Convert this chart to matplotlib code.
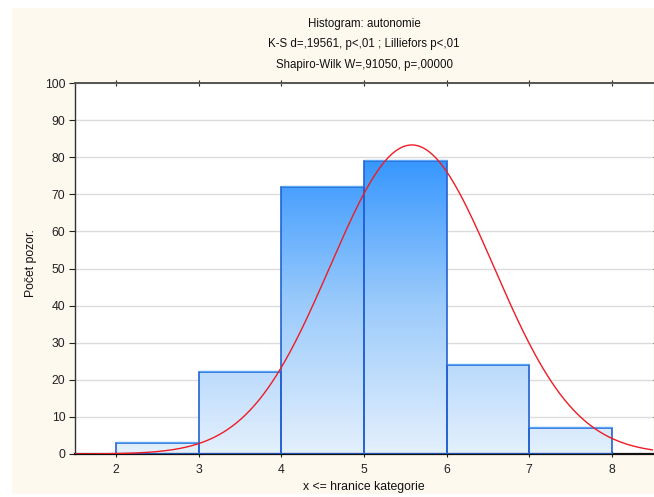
import numpy as np
import matplotlib.pyplot as plt
from matplotlib.colors import LinearSegmentedColormap
from matplotlib.patches import Rectangle

plt.rcParams['font.family'] = ['Liberation Sans', 'DejaVu Sans']

# histogram of "autonomie": categories x <= upper edge
bin_edges = [2, 3, 4, 5, 6, 7, 8]
counts = [3, 22, 72, 79, 24, 7]
x_ticks = [2, 3, 4, 5, 6, 7, 8]
y_ticks = [0, 10, 20, 30, 40, 50, 60, 70, 80, 90, 100]
title_lines = ['Histogram: autonomie',
               'K-S d=,19561, p<,01 ; Lilliefors p<,01',
               'Shapiro-Wilk W=,91050, p=,00000']

W, H = 654, 497
fig = plt.figure(figsize=(W / 100, H / 100), dpi=100)
fig.patch.set_facecolor('white')
# cream panel behind the chart
fig.patches.append(Rectangle((12 / W, 1 - 494 / H), 1, 486 / H,
                             transform=fig.transFigure, facecolor='#fdf9ef',
                             edgecolor='none', zorder=-10))

ax = fig.add_axes([75 / W, 1 - 454 / H, (653 - 75) / W, (454 - 83) / H])
ax.set_facecolor('white')

grad = LinearSegmentedColormap.from_list('bars', ['#e4f0fd', '#9ccbfb', '#3596ff'])

for lo, hi, c in zip(bin_edges[:-1], bin_edges[1:], counts):
    ys = np.linspace(0, c, 200).reshape(-1, 1)
    ax.imshow(ys, extent=[lo, hi, 0, c], origin='lower', aspect='auto',
              cmap=grad, vmin=0, vmax=80, zorder=2, interpolation='bilinear')
    ax.add_patch(Rectangle((lo, 0), hi - lo, c, facecolor='none',
                           edgecolor='#2462d2', linewidth=1.2, zorder=3))
    ax.plot([lo, hi], [c + 0.35, c + 0.35], color='#5aa8f5', lw=1.0,
            zorder=3, solid_capstyle='butt')

# fitted normal curve, observations taken at the category upper limits
vals = np.array(bin_edges[1:], dtype=float)
n = np.array(counts, dtype=float)
N = n.sum()
mu = (vals * n).sum() / N
sd = np.sqrt(((vals - mu) ** 2 * n).sum() / (N - 1))
xs = np.linspace(1.5, 8.5, 400)
ys = N * 1.0 / (sd * np.sqrt(2 * np.pi)) * np.exp(-0.5 * ((xs - mu) / sd) ** 2)
ax.plot(xs, ys, color='#ee1c25', lw=1.0, zorder=4)

ax.set_xlim(1.5, 8.5)
ax.set_ylim(0, 100)
ax.set_xticks(x_ticks)
ax.set_yticks(y_ticks)
ax.grid(axis='y', color='#dcdcdc', linewidth=1.0, zorder=0)
ax.set_axisbelow(True)

ax.tick_params(axis='x', which='both', direction='inout', length=4, width=0.8,
               top=True, labelsize=8.8, pad=5, colors='#222222')
ax.tick_params(axis='y', which='both', direction='out', length=4, width=0.8,
               right=True, labelsize=8.8, pad=3, colors='#222222')

ax.spines['top'].set_color('#555555')
ax.spines['top'].set_linewidth(1.4)
ax.spines['left'].set_color('#333333')
ax.spines['left'].set_linewidth(1.0)
ax.spines['bottom'].set_color('#111111')
ax.spines['bottom'].set_linewidth(1.6)
ax.spines['right'].set_visible(False)

ax.set_xlabel('x <= hranice kategorie', fontsize=8.8, labelpad=4, color='#111111')
ax.set_ylabel('Počet pozor.', fontsize=8.8, color='#111111')
ax.yaxis.set_label_coords(-0.066, 0.515)

cx = (75 + 653) / 2 / W
for i, line in enumerate(title_lines):
    fig.text(cx, 1 - (24 + i * 20.5) / H, line, ha='center', va='center',
             fontsize=8.3, color='#111111')

fig.savefig('out.png', dpi=100)
